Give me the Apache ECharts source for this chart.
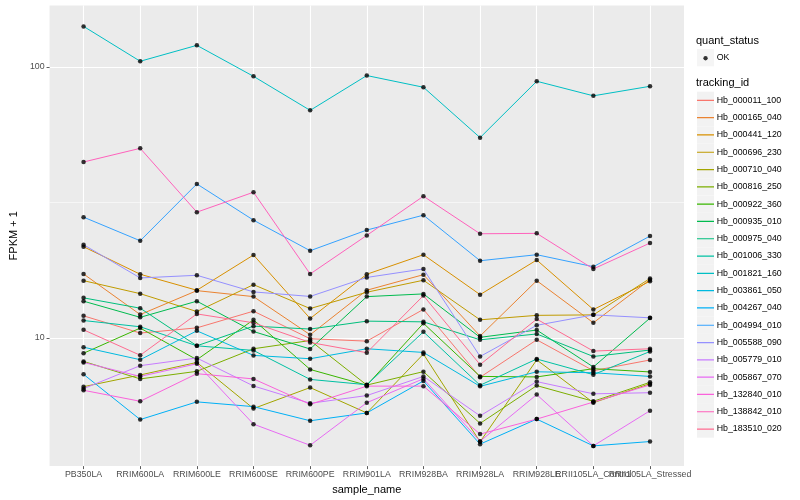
<!DOCTYPE html>
<html><head><meta charset="utf-8">
<script src="https://cdn.jsdelivr.net/npm/echarts@6/dist/echarts.min.js"></script>
<style>html,body{margin:0;padding:0;background:#fff}#c{width:800px;height:500px}</style>
</head><body><div id="c"></div>
<script>
// ---------- data ----------
const categories = ['PB350LA','RRIM600LA','RRIM600LE','RRIM600SE','RRIM600PE','RRIM901LA','RRIM928BA','RRIM928LA','RRIM928LE','RRII105LA_Control','RRII105LA_Stressed'];
const trackingIds = ['Hb_000011_100','Hb_000165_040','Hb_000441_120','Hb_000696_230','Hb_000710_040','Hb_000816_250','Hb_000922_360','Hb_000935_010','Hb_000975_040','Hb_001006_330','Hb_001821_160','Hb_003861_050','Hb_004267_040','Hb_004994_010','Hb_005588_090','Hb_005779_010','Hb_005867_070','Hb_132840_010','Hb_138842_010','Hb_183510_020'];
const colors = ['#F8766D','#EA8331','#D89000','#C09B00','#A3A500','#7CAE00','#39B600','#00BB4E','#00BF7D','#00C1A3','#00BFC4','#00BAE0','#00B0F6','#35A2FF','#9590FF','#C77CFF','#E76BF3','#FA62DB','#FF62BC','#FF6C91'];
const quantStatus = ['OK'];

const hb_000011_100 = [12.05, 10.41, 10.88, 12.54, 9.92, 9.72, 12.73, 7.15, 9.83, 7.56, 8.28];
const hb_000165_040 = [17.20, 12.18, 14.93, 14.19, 10.26, 14.98, 17.10, 10.15, 16.25, 11.36, 16.39];
const hb_000441_120 = [21.68, 17.16, 14.98, 20.21, 11.78, 17.16, 20.26, 14.43, 19.37, 12.71, 16.17];
const hb_000696_230 = [16.25, 14.55, 12.50, 15.71, 12.82, 14.73, 16.31, 11.65, 12.10, 12.15, 16.56];
const hb_000710_040 = [6.60, 7.29, 8.11, 5.48, 6.55, 5.28, 8.71, 4.13, 8.29, 5.76, 6.77];
const hb_000816_250 = [8.18, 7.05, 7.52, 9.11, 9.77, 6.69, 7.50, 4.83, 6.66, 5.83, 6.85];
const hb_000922_360 = [8.77, 10.86, 8.30, 11.65, 7.64, 6.68, 11.31, 7.20, 7.17, 7.69, 7.48];
const hb_000935_010 = [13.65, 11.90, 13.65, 10.55, 9.09, 14.19, 14.52, 10.04, 10.68, 7.80, 11.82];
const hb_000975_040 = [14.04, 12.86, 9.34, 11.04, 10.77, 11.52, 11.45, 9.83, 10.33, 8.53, 9.01];
const hb_001006_330 = [11.58, 10.98, 9.34, 8.98, 7.02, 6.71, 10.52, 6.68, 8.35, 7.31, 8.90];
const hb_001821_160 = [141.1, 104.9, 120.1, 92.3, 69.1, 92.9, 84.1, 54.8, 88.5, 78.2, 84.8];
const hb_003861_050 = [9.23, 8.30, 10.61, 8.61, 8.37, 9.11, 8.83, 6.62, 7.49, 7.43, 7.20];
const hb_004267_040 = [7.33, 4.99, 5.80, 5.57, 4.94, 5.28, 6.93, 4.05, 5.01, 3.99, 4.14];
const hb_004994_010 = [27.88, 22.81, 36.98, 27.18, 20.96, 24.98, 28.36, 19.25, 20.26, 18.30, 23.74];
const hb_005588_090 = [22.05, 16.63, 17.01, 14.77, 14.21, 16.70, 17.95, 8.53, 11.12, 12.15, 11.85];
const hb_005779_010 = [6.49, 7.89, 8.42, 6.64, 5.73, 6.12, 7.20, 5.15, 6.89, 6.21, 6.27];
const hb_005867_070 = [8.11, 7.20, 8.02, 4.80, 4.01, 5.76, 7.06, 4.15, 6.17, 3.99, 5.38];
const hb_132840_010 = [6.40, 5.83, 7.37, 7.05, 5.68, 6.63, 6.63, 4.41, 5.01, 5.79, 6.70];
const hb_138842_010 = [44.56, 50.04, 29.09, 34.46, 17.20, 23.88, 33.31, 24.21, 24.29, 17.95, 22.37];
const hb_183510_020 = [10.70, 8.62, 12.25, 11.36, 9.61, 8.81, 14.31, 7.96, 11.72, 8.93, 9.11];

const yTickValues = [10, 100];
const yMinorGrid = [31.62];

// ---------- chart ----------
const seriesValues = [hb_000011_100, hb_000165_040, hb_000441_120, hb_000696_230, hb_000710_040,
  hb_000816_250, hb_000922_360, hb_000935_010, hb_000975_040, hb_001006_330, hb_001821_160,
  hb_003861_050, hb_004267_040, hb_004994_010, hb_005588_090, hb_005779_010, hb_005867_070,
  hb_132840_010, hb_138842_010, hb_183510_020];

const FONT = '"Liberation Sans", Arial, Helvetica, sans-serif';
const catIdx = categories.map((_, i) => i);
const X_MIN = -0.6, X_MAX = categories.length - 1 + 0.6;
const Y_MIN = 3.36, Y_MAX = 168.5;

const lineSeries = trackingIds.map((id, k) => ({
  name: id, type: 'line', silent: true,
  data: seriesValues[k].map((v, i) => [i, v]),
  showSymbol: false, symbol: 'none',
  lineStyle: { color: colors[k], width: 1 },
  itemStyle: { color: colors[k] },
  z: 2
}));

const pointSeries = {
  name: quantStatus[0], type: 'scatter', silent: true,
  data: seriesValues.flatMap(arr => arr.map((v, i) => [i, v])),
  symbol: 'circle', symbolSize: 4.5,
  itemStyle: { color: '#000000' }, z: 3
};

const legendBase = {
  orient: 'vertical', padding: 0, itemGap: 0, itemWidth: 17, itemHeight: 17.3,
  selectedMode: false, symbolKeepAspect: false,
  textStyle: { fontFamily: FONT, fontSize: 8.8, color: 'rgba(0,0,0,0)' }
};
const LINE_ICON = 'path://M0,0h0.01v0.01h-0.01zM0,8.05H17V9.25H0zM16.99,17.29h0.01v0.01h-0.01z';

const option = {
  animation: false,
  backgroundColor: '#FFFFFF',
  textStyle: { fontFamily: FONT },
  title: [
    { text: 'quant_status', left: 696, top: 35, padding: 0,
      textStyle: { fontFamily: FONT, fontSize: 11, fontWeight: 'normal', color: '#000' } },
    { text: 'tracking_id', left: 696, top: 77.5, padding: 0,
      textStyle: { fontFamily: FONT, fontSize: 11, fontWeight: 'normal', color: '#000' } }
  ],
  legend: [
    Object.assign({}, legendBase, { left: 697, top: 91.7, icon: 'rect',
      itemStyle: { color: '#F2F2F2', borderWidth: 0 },
      data: trackingIds.slice() }),
    Object.assign({}, legendBase, { left: 697, top: 91.7, icon: LINE_ICON,
      itemStyle: { borderWidth: 0 },
      data: trackingIds.map((id, k) => ({ name: id, itemStyle: { color: colors[k], borderWidth: 0 } })) }),
    Object.assign({}, legendBase, { left: 694.7, top: 91.7, icon: 'rect',
      itemStyle: { opacity: 0 },
      textStyle: { fontFamily: FONT, fontSize: 8.8, color: '#000' },
      data: trackingIds.slice() }),
    Object.assign({}, legendBase, { left: 697, top: 49, icon: 'rect',
      itemStyle: { color: '#F2F2F2', borderWidth: 0 },
      data: quantStatus.slice() }),
    Object.assign({}, legendBase, { left: 703.4, top: 56.1, icon: 'circle', itemWidth: 4.3, itemHeight: 4.3,
      formatter: () => '', textStyle: { fontSize: 1, color: 'rgba(0,0,0,0)' },
      itemStyle: { color: '#000', borderWidth: 0 },
      data: quantStatus.slice() }),
    Object.assign({}, legendBase, { left: 694.7, top: 49, icon: 'rect',
      itemStyle: { opacity: 0 },
      textStyle: { fontFamily: FONT, fontSize: 8.8, color: '#000' },
      data: quantStatus.slice() })
  ],
  grid: { left: 40, right: 116, top: 5.5, bottom: 32.5, show: true, backgroundColor: '#EBEBEB', borderWidth: 0, containLabel: false },
  xAxis: {
    type: 'value', min: X_MIN, max: X_MAX, splitNumber: 11,
    axisLine: { show: false, onZero: false },
    axisTick: { show: true, length: 3, customValues: catIdx, lineStyle: { color: '#333333', width: 0.8 } },
    axisLabel: {
      customValues: [X_MIN].concat(catIdx, [X_MAX]),
      formatter: v => (Number.isInteger(v) && categories[v]) ? categories[v] : '',
      color: '#4D4D4D', fontSize: 8.8, fontFamily: FONT, margin: 4, hideOverlap: false },
    splitLine: { show: true, lineStyle: { color: '#FFFFFF', width: 1.1 } },
    name: 'sample_name', nameLocation: 'middle', nameGap: 15,
    nameTextStyle: { fontSize: 11, color: '#000', fontFamily: FONT }
  },
  yAxis: [{
    type: 'log', logBase: 10, min: Y_MIN, max: Y_MAX,
    axisLine: { show: false, onZero: false },
    axisTick: { show: true, length: 3, customValues: yTickValues, lineStyle: { color: '#333333', width: 0.8 } },
    axisLabel: { customValues: yTickValues, color: '#4D4D4D', fontSize: 8.8, fontFamily: FONT, margin: 5 },
    splitLine: { show: true, lineStyle: { color: '#FFFFFF', width: 1.1 } },
    name: 'FPKM + 1', nameLocation: 'middle', nameGap: 22,
    nameTextStyle: { fontSize: 11, color: '#000', fontFamily: FONT }
  }, {
    type: 'log', logBase: 10, min: Y_MIN, max: Y_MAX, position: 'left',
    axisLine: { show: false, onZero: false },
    axisTick: { show: false, customValues: yMinorGrid },
    axisLabel: { show: false, customValues: yMinorGrid },
    splitLine: { show: true, lineStyle: { color: '#FFFFFF', width: 0.55 } }
  }],
  series: lineSeries.concat([pointSeries])
};

const chart = echarts.init(document.getElementById('c'), null, { renderer: 'canvas', width: 800, height: 500 });
chart.setOption(option);
</script>
</body></html>
